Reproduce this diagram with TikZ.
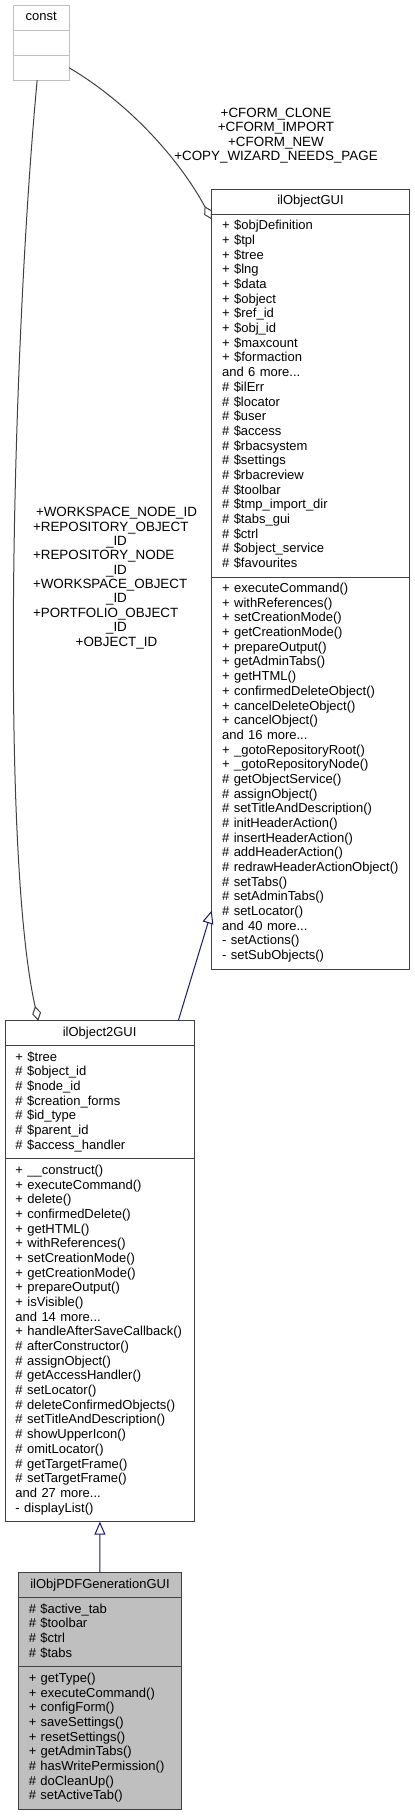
\documentclass[tikz,border=0pt]{standalone}
\usepackage{fontspec}
\setmainfont{Liberation Sans}
\usepackage{xcolor}
\usepackage{tikz}
\usetikzlibrary{arrows.meta,positioning,calc}
\definecolor{edgegrey}{HTML}{404040}
\definecolor{classgrey}{HTML}{BFBFBF}
\definecolor{inheritblue}{HTML}{191970}
\newcommand{\edgeleft}[1]{\makebox[167pt][l]{#1}}

\begin{document}
\begin{tikzpicture}[
        x=1pt, y=-1pt,
        every node/.style={font=\fontsize{13}{14.68}\selectfont},
        classpart/.style={draw=edgegrey, line width=1pt, fill=white, outer sep=0pt,
            inner xsep=10.5pt, inner ysep=5.2pt, align=left,
            execute at begin node=\strut, execute at end node=\strut},
        classtitle/.style={classpart, align=center},
        edgelabel/.style={font=\fontsize{13.4}{14.35}\selectfont, align=center, inner sep=0pt},
        aggr/.style={draw=edgegrey, line width=1pt, -{Diamond[fill=white, length=15pt, width=9pt]}},
        inherit/.style={draw=inheritblue, line width=1pt, -{Triangle[fill=white, length=13pt, width=11pt]}},
    ]
        \useasboundingbox (0,0) rectangle (415,1816);

        \node[classtitle, draw=classgrey, text width=34.7pt, anchor=north west] (const) at (13.3,5) {const};
        \node[classpart, draw=classgrey, text width=34.7pt, below=0pt of const] (const-a) {};
        \node[classpart, draw=classgrey, text width=34.7pt, below=0pt of const-a] (const-m) {};

        \node[classtitle, text width=176.6pt, anchor=north west] (ogui) at (211.7,189.3) {ilObjectGUI};
        \node[classpart, text width=176.6pt, below=0pt of ogui] (ogui-a) {%
            +~\$objDefinition\\+~\$tpl\\+~\$tree\\+~\$lng\\+~\$data\\+~\$object\\
            +~\$ref\_id\\+~\$obj\_id\\+~\$maxcount\\+~\$formaction\\and 6 more...\\
            \#~\$ilErr\\\#~\$locator\\\#~\$user\\\#~\$access\\\#~\$rbacsystem\\
            \#~\$settings\\\#~\$rbacreview\\\#~\$toolbar\\\#~\$tmp\_import\_dir\\
            \#~\$tabs\_gui\\\#~\$ctrl\\\#~\$object\_service\\\#~\$favourites};
        \node[classpart, text width=176.6pt, below=0pt of ogui-a] (ogui-m) {%
            +~executeCommand()\\+~withReferences()\\+~setCreationMode()\\
            +~getCreationMode()\\+~prepareOutput()\\+~getAdminTabs()\\+~getHTML()\\
            +~confirmedDeleteObject()\\+~cancelDeleteObject()\\+~cancelObject()\\
            and 16 more...\\+~\_gotoRepositoryRoot()\\+~\_gotoRepositoryNode()\\
            \#~getObjectService()\\\#~assignObject()\\\#~setTitleAndDescription()\\
            \#~initHeaderAction()\\\#~insertHeaderAction()\\\#~addHeaderAction()\\
            \#~redrawHeaderActionObject()\\\#~setTabs()\\\#~setAdminTabs()\\
            \#~setLocator()\\and 40 more...\\-~setActions()\\-~setSubObjects()};

        \node[classtitle, text width=168.3pt, anchor=north west] (o2) at (5,1020.7) {ilObject2GUI};
        \node[classpart, text width=168.3pt, below=0pt of o2] (o2-a) {%
            +~\$tree\\\#~\$object\_id\\\#~\$node\_id\\\#~\$creation\_forms\\
            \#~\$id\_type\\\#~\$parent\_id\\\#~\$access\_handler};
        \node[classpart, text width=168.3pt, below=0pt of o2-a] (o2-m) {%
            +~\_\_construct()\\+~executeCommand()\\+~delete()\\+~confirmedDelete()\\
            +~getHTML()\\+~withReferences()\\+~setCreationMode()\\+~getCreationMode()\\
            +~prepareOutput()\\+~isVisible()\\and 14 more...\\
            +~handleAfterSaveCallback()\\\#~afterConstructor()\\\#~assignObject()\\
            \#~getAccessHandler()\\\#~setLocator()\\\#~deleteConfirmedObjects()\\
            \#~setTitleAndDescription()\\\#~showUpperIcon()\\\#~omitLocator()\\
            \#~getTargetFrame()\\\#~setTargetFrame()\\and 27 more...\\-~displayList()};

        \node[classtitle, fill=classgrey, text width=142.4pt, anchor=north west] (pdf) at (18.3,1572.7) {ilObjPDFGenerationGUI};
        \node[classpart, fill=classgrey, text width=142.4pt, below=0pt of pdf] (pdf-a) {%
            \#~\$active\_tab\\\#~\$toolbar\\\#~\$ctrl\\\#~\$tabs};
        \node[classpart, fill=classgrey, text width=142.4pt, below=0pt of pdf-a] (pdf-m) {%
            +~getType()\\+~executeCommand()\\+~configForm()\\+~saveSettings()\\
            +~resetSettings()\\+~getAdminTabs()\\\#~hasWritePermission()\\
            \#~doCleanUp()\\\#~setActiveTab()};

        \draw[aggr] (const-m.east) .. controls +(61,36) and +(-31.7,-59) .. ($(ogui-a.north west)+(0,5)$);
        \draw[aggr] ($(const-m.south)+(-4,0)$) .. controls +(-25,268) and +(-38.3,-170.7) .. ($(o2.north west)+(33.3,0)$);
        \draw[inherit] ($(o2.north east)+(-16,0)$) -- ($(ogui-m.south west)+(0,-58.6)$);
        \draw[inherit] (pdf) -- (o2-m);

        \node[edgelabel, anchor=north] (cform-lbl) at (276,108) {+CFORM\_CLONE\\+CFORM\_IMPORT\\+CFORM\_NEW\\+COPY\_WIZARD\_NEEDS\_PAGE};
        \node[edgelabel, anchor=north] (id-lbl) at (116.5,507.3) {+WORKSPACE\_NODE\_ID\\
            \edgeleft{+REPOSITORY\_OBJECT}\\\_ID\\\edgeleft{+REPOSITORY\_NODE}\\\_ID\\
            \edgeleft{+WORKSPACE\_OBJECT}\\\_ID\\\edgeleft{+PORTFOLIO\_OBJECT}\\\_ID\\+OBJECT\_ID};
    \end{tikzpicture}
\end{document}
